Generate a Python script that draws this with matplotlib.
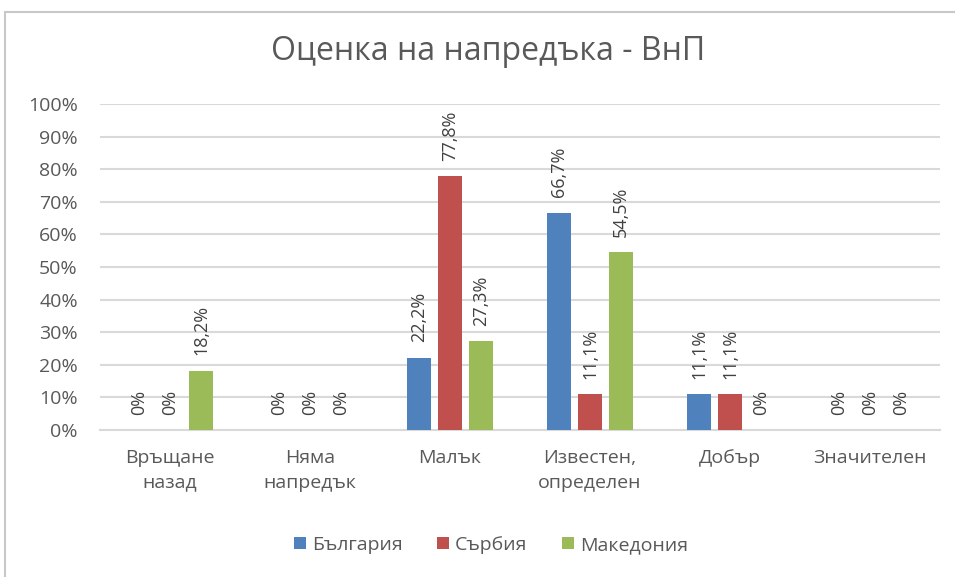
import numpy as np
import matplotlib.pyplot as plt
from matplotlib.patches import Rectangle

plt.rcParams['font.family'] = ['Open Sans', 'DejaVu Sans']

# data (percent)
categories = ['Връщане\nназад', 'Няма\nнапредък', 'Малък', 'Известен,\nопределен', 'Добър', 'Значителен']
series_names = ['България', 'Сърбия', 'Македония']
bulgaria = [0, 0, 22.2, 66.7, 11.1, 0]
serbia = [0, 0, 77.8, 11.1, 11.1, 0]
macedonia = [18.2, 0, 27.3, 54.5, 0, 0]
colors = ['#4F81BD', '#C0504D', '#9BBB59']

text_col = '#595959'
grid_col = '#D9D9D9'

fig = plt.figure(figsize=(9.55, 5.77), dpi=100)
ax = fig.add_axes([100/955, 1 - 430/577, 840/955, 326/577])

# chart area frame (cut off on the right and bottom in the original)
fig.patches.append(Rectangle((5/955, -0.1), 1.2, 1 - 12/577 + 0.1, transform=fig.transFigure,
                             fill=False, edgecolor='#C8C8C8', linewidth=1.5))

x = np.arange(len(categories))
step = 0.221
width = 0.171
for j, (name, vals) in enumerate(zip(series_names, [bulgaria, serbia, macedonia])):
    pos = x + (j - 1) * step
    ax.bar(pos, vals, width, color=colors[j], label=name, zorder=3)
    for px, v in zip(pos, vals):
        lbl = '0%' if v == 0 else f'{v:.1f}%'.replace('.', ',')
        ax.annotate(lbl, (px, v), xytext=(0, 11), textcoords='offset points',
                    rotation=90, ha='center', va='bottom', fontsize=13, color='#404040')

ax.set_xlim(-0.5, len(categories) - 0.5)
ax.set_ylim(0, 100)
ax.set_yticks(np.arange(0, 101, 10))
ax.set_yticklabels([f'{t}%' for t in range(0, 101, 10)])
ax.set_xticks(x)
ax.set_xticklabels(categories, linespacing=1.45)
ax.tick_params(axis='y', length=0, pad=16, labelsize=14, labelcolor=text_col)
ax.tick_params(axis='x', length=0, pad=14, labelsize=14, labelcolor=text_col)

ax.grid(axis='y', color=grid_col, linewidth=1.5, zorder=0)
for s in ['top', 'right', 'left']:
    ax.spines[s].set_visible(False)
ax.spines['bottom'].set_color(grid_col)
ax.spines['bottom'].set_linewidth(1.5)

fig.text(488/955, 1 - 52/577, 'Оценка на напредъка - ВнП', ha='center', va='center',
         fontsize=23, color=text_col)

fig.legend(loc='center', bbox_to_anchor=(491/955, 1 - 545/577), ncol=3, frameon=False,
           fontsize=14, handlelength=0.6, handleheight=0.6, handletextpad=0.3,
           columnspacing=1.8, labelcolor=text_col)

fig.savefig('out.png', dpi=100)
